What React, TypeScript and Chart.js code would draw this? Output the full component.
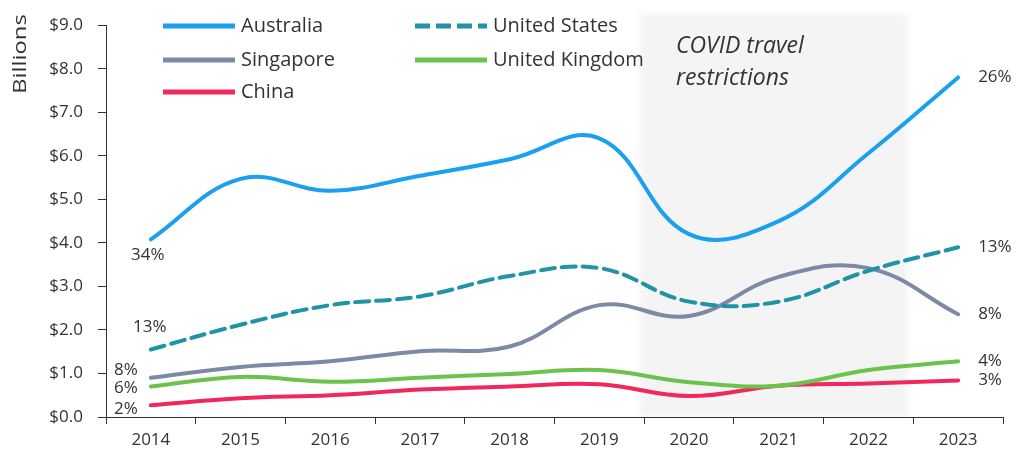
import { useEffect, useRef } from "react";
import { Chart, registerables } from "chart.js";

Chart.register(...registerables);

// ---------- data ----------
const years = ["2014", "2015", "2016", "2017", "2018", "2019", "2020", "2021", "2022", "2023"];
const australia = [4.08, 5.47, 5.2, 5.54, 5.92, 6.4, 4.2, 4.5, 6.06, 7.8];
const unitedStates = [1.55, 2.12, 2.57, 2.77, 3.24, 3.42, 2.65, 2.65, 3.36, 3.9];
const singapore = [0.9, 1.15, 1.28, 1.51, 1.62, 2.57, 2.32, 3.22, 3.42, 2.36];
const unitedKingdom = [0.7, 0.92, 0.81, 0.9, 0.99, 1.08, 0.8, 0.72, 1.08, 1.28];
const china = [0.27, 0.43, 0.5, 0.63, 0.7, 0.75, 0.48, 0.72, 0.77, 0.84];
const seriesNames = ["Australia", "United States", "Singapore", "United Kingdom", "China"];
const startShares = ["34%", "13%", "8%", "6%", "2%"];
const endShares = ["26%", "13%", "8%", "4%", "3%"];
const yTickValues = [0, 1, 2, 3, 4, 5, 6, 7, 8, 9];
const axisTitle = "Billions";
const covidText = ["COVID travel", "restrictions"];
const covidStartIndex = 5.5;
const covidEndIndex = 8.5;

// ---------- styles ----------
const FONT = "'Open Sans', sans-serif";
const TEXT = "#333333";
const colors = ["#1aa0ee", "#2094a6", "#7d8aa5", "#6cc24c", "#f0285c"];
const dashes: number[][] = [[], [14, 7], [], [], []];
const startLabelStyle = [
  { dx: -3, dy: 16, align: "center" },
  { dx: -1, dy: -22, align: "center" },
  { dx: -13, dy: -8, align: "right" },
  { dx: -13, dy: 2, align: "right" },
  { dx: -13, dy: 4, align: "right" },
];
const legendSlots = [
  { x: 163, y: 26 },
  { x: 415, y: 26 },
  { x: 163, y: 60 },
  { x: 415, y: 60 },
  { x: 163, y: 92 },
];

const seriesData = [australia, unitedStates, singapore, unitedKingdom, china];

const decorPlugin = {
  id: "decor",
  beforeDatasetsDraw(chart: any) {
    const { ctx, scales } = chart;
    const xs = scales.x;
    const x0 = xs.getPixelForValue(covidStartIndex) - 5;
    const x1 = xs.getPixelForValue(covidEndIndex) - 6;
    const top = 14;
    const bottom = scales.y.getPixelForValue(0);
    ctx.save();
    ctx.filter = "blur(3px)";
    ctx.fillStyle = "rgba(0,0,0,0.045)";
    ctx.fillRect(x0, top, x1 - x0, bottom - top);
    ctx.restore();
  },
  afterDraw(chart: any) {
    const { ctx, scales } = chart;
    const xs = scales.x;
    const ys = scales.y;
    ctx.save();
    // axis title
    ctx.save();
    ctx.translate(21, 54);
    ctx.rotate(-Math.PI / 2);
    ctx.scale(1.25, 1);
    ctx.font = `19px ${FONT}`;
    ctx.fillStyle = TEXT;
    ctx.textAlign = "center";
    ctx.textBaseline = "middle";
    ctx.fillText(axisTitle, 0, 0);
    ctx.restore();

    // COVID annotation
    ctx.font = `italic 23px ${FONT}`;
    ctx.fillStyle = TEXT;
    ctx.textAlign = "left";
    ctx.textBaseline = "middle";
    ctx.fillText(covidText[0], 676, 46);
    ctx.fillText(covidText[1], 676, 78);

    // legend
    seriesNames.forEach((name, i) => {
      const s = legendSlots[i];
      ctx.beginPath();
      ctx.strokeStyle = colors[i];
      ctx.lineWidth = 5;
      ctx.lineCap = "butt";
      ctx.setLineDash(dashes[i].length ? [15, 6] : []);
      ctx.moveTo(s.x, s.y);
      ctx.lineTo(s.x + 72, s.y);
      ctx.stroke();
      ctx.setLineDash([]);
      ctx.font = `20px ${FONT}`;
      ctx.fillStyle = TEXT;
      ctx.textAlign = "left";
      ctx.textBaseline = "middle";
      ctx.fillText(name, s.x + 78, s.y);
    });

    // share labels
    ctx.font = `17px ${FONT}`;
    ctx.fillStyle = TEXT;
    ctx.textBaseline = "middle";
    seriesData.forEach((arr, i) => {
      const sx = xs.getPixelForValue(0);
      const sy = ys.getPixelForValue(arr[0]);
      const st = startLabelStyle[i];
      ctx.textAlign = st.align;
      ctx.fillText(startShares[i], sx + st.dx, sy + st.dy);
      const last = arr.length - 1;
      const ex = xs.getPixelForValue(last);
      const ey = ys.getPixelForValue(arr[last]);
      ctx.textAlign = "left";
      ctx.fillText(endShares[i], ex + 20, ey);
    });
    ctx.restore();
  },
};

export default function App() {
  const ref = useRef<HTMLCanvasElement>(null);
  useEffect(() => {
    if (!ref.current) return;
    const chart = new Chart(ref.current, {
      type: "line",
      data: {
        labels: years,
        datasets: seriesData.map((arr, i) => ({
          label: seriesNames[i],
          data: arr,
          borderColor: colors[i],
          backgroundColor: colors[i],
          borderWidth: 4,
          borderDash: dashes[i],
          borderCapStyle: "round",
          pointRadius: 0,
          tension: 0.4,
          fill: false,
        })),
      },
      options: {
        responsive: false,
        animation: false,
        layout: { padding: { left: 0, right: 15, top: 17, bottom: 0 } },
        plugins: { legend: { display: false }, tooltip: { enabled: false } },
        scales: {
          x: {
            type: "category",
            offset: true,
            grid: { display: true, offset: true, drawOnChartArea: false, tickLength: 7, color: "#333" },
            border: { display: true, color: "#333", width: 1 },
            ticks: { font: { family: FONT, size: 17 }, color: TEXT, padding: 6, maxRotation: 0 },
            afterFit: (s: any) => { s.height = 45; },
          },
          y: {
            min: 0,
            max: 9,
            afterBuildTicks: (s: any) => { s.ticks = yTickValues.map((v) => ({ value: v })); },
            grid: { display: true, drawOnChartArea: false, tickLength: 8, color: "#333" },
            border: { display: true, color: "#333", width: 1 },
            ticks: {
              font: { family: FONT, size: 17 },
              color: TEXT,
              padding: 15,
              callback: (v: any) => "$" + Number(v).toFixed(1),
            },
            afterFit: (s: any) => { s.width = 106; },
          },
        },
      },
      plugins: [decorPlugin],
    } as any);
    return () => chart.destroy();
  }, []);
  return (
    <div style={{ position: "absolute", left: 0, top: 0, width: 1018, height: 462, background: "#fff" }}>
      <canvas ref={ref} width={1018} height={462} style={{ display: "block" }} />
    </div>
  );
}
